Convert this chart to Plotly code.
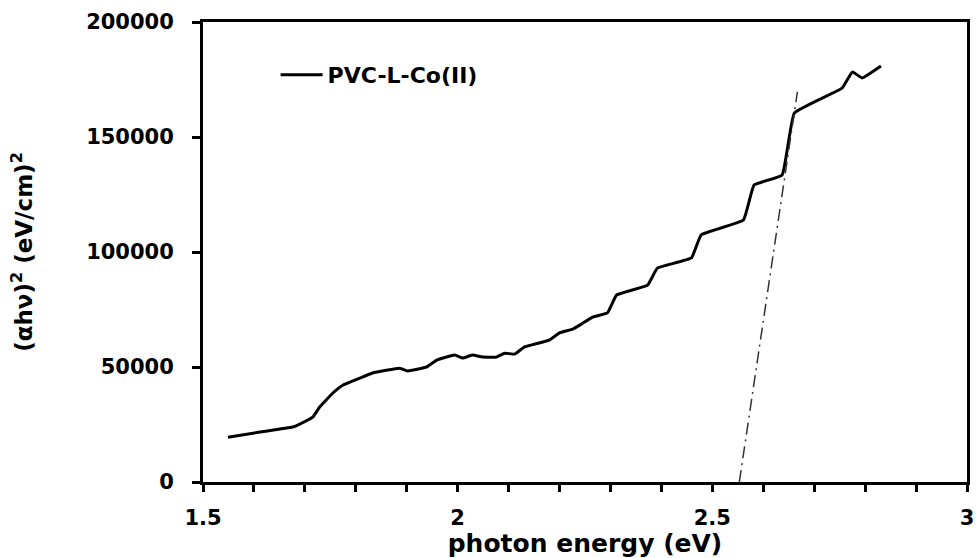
import plotly.graph_objects as go

energy = [1.549, 1.612, 1.676, 1.690, 1.716, 1.729, 1.755, 1.775, 1.808, 1.833,
          1.886, 1.902, 1.939, 1.959, 1.994, 2.010, 2.029, 2.049, 2.076, 2.092,
          2.112, 2.131, 2.180, 2.200, 2.226, 2.243, 2.265, 2.294, 2.312, 2.373,
          2.392, 2.459, 2.478, 2.561, 2.582, 2.637, 2.661, 2.755, 2.775, 2.794,
          2.831]
ahv2 = [19500, 21700, 23900, 25200, 28300, 32600, 38700, 42200, 45200, 47400,
        49500, 48300, 50000, 53000, 55200, 53900, 55200, 54300, 54300, 56000,
        55600, 58700, 61700, 64800, 66500, 68700, 71700, 73500, 81300, 85600,
        93000, 97400, 107400, 113900, 129100, 133500, 160400, 171300, 178300, 175700,
        180900]

fit_x = [2.553, 2.667]
fit_y = [0, 169600]

series_name = "PVC-L-Co(II)"
x_title = "photon energy (eV)"
y_title = "(αhν)<sup>2</sup> (eV/cm)<sup>2</sup>"

FONT = "DejaVu Sans"

fig = go.Figure()
fig.add_trace(go.Scatter(x=energy, y=ahv2, mode="lines", name=series_name,
                         line=dict(color="black", width=3, shape="spline", smoothing=0.3),
                         showlegend=True))
fig.add_trace(go.Scatter(x=fit_x, y=fit_y, mode="lines", showlegend=False,
                         line=dict(color="#333333", width=1.5, dash="12px,5px,2px,5px")))

fig.update_layout(
    width=976, height=558,
    margin=dict(l=203, r=9, t=22, b=76, autoexpand=False),
    paper_bgcolor="white", plot_bgcolor="white",
    font=dict(family=FONT, color="black", size=20, weight="bold"),
    legend=dict(x=0.095, y=0.885, xanchor="left", yanchor="middle", itemwidth=42,
                bgcolor="rgba(0,0,0,0)", font=dict(size=22, family=FONT, weight="bold")),
    xaxis=dict(range=[1.5, 3], dtick=0.5, tick0=1.5, showgrid=False, zeroline=False,
               automargin=False,
               showline=True, linewidth=3, linecolor="black", mirror=True,
               ticks="outside", ticklen=7, tickwidth=2.5, tickcolor="black",
               minor=dict(dtick=0.1, ticks="outside", ticklen=7, tickwidth=2.5, tickcolor="black"),
               tickfont=dict(size=21, family=FONT, weight="bold"),
               ticklabelstandoff=8,
               title=dict(text=x_title, font=dict(size=25, family=FONT, weight="bold"), standoff=6)),
    yaxis=dict(range=[0, 200000], dtick=50000, tickformat="d", showgrid=False, zeroline=False,
               automargin=False,
               showline=True, linewidth=3, linecolor="black", mirror=True,
               ticks="outside", ticklen=8, tickwidth=2.5, tickcolor="black",
               tickfont=dict(size=21, family=FONT, weight="bold"),
               ticklabelstandoff=14,
               title=dict(text=y_title, font=dict(size=23, family=FONT, weight="bold"), standoff=48)),
)

fig.write_html("out.html")
